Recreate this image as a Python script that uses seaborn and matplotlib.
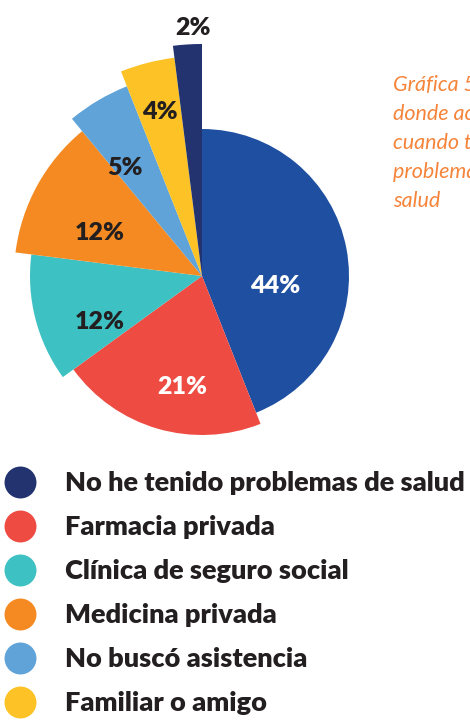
import matplotlib.pyplot as plt
import seaborn as sns
import numpy as np
from matplotlib.lines import Line2D

# datos del grafico (sentido horario desde arriba)
categorias = ["Otro", "Farmacia privada", "Clínica de seguro social", "Medicina privada",
              "No buscó asistencia", "Familiar o amigo", "No he tenido problemas de salud"]
porcentajes = [44, 21, 12, 12, 5, 4, 2]
etiquetas = ["44%", "21%", "12%", "12%", "5%", "4%", "2%"]
leyenda_orden = ["No he tenido problemas de salud", "Farmacia privada", "Clínica de seguro social",
                 "Medicina privada", "No buscó asistencia", "Familiar o amigo"]
nota = ["Gráfica 5. Lugar", "donde acude", "cuando tiene", "problemas de", "salud"]

# estilo
colores = ["#1f4fa0", "#ee4c43", "#3ec1c2", "#f58a22", "#5fa3d8", "#fdc226", "#22336f"]
radios = [147, 159, 172, 188, 204, 220, 232]
dist_lbl = [0.50, 0.71, 0.65, 0.59, 0.65, 0.77, 1.07]
giro_lbl = [-19, 6, 10, 6, 5, 0, -1.5]
col_lbl = ["white", "white", "#231f20", "#231f20", "#231f20", "#231f20", "#231f20"]

sns.set_theme(style="white")
plt.rcParams['font.family'] = ['Lato', 'DejaVu Sans']

fig = plt.figure(figsize=(4.7, 7.2), dpi=100)
ax = fig.add_axes([0, 0, 1, 1])

cx, cy = 202, 276
wedges, _ = ax.pie(porcentajes, colors=colores, startangle=90, counterclock=False,
                   radius=1, wedgeprops=dict(linewidth=0))
for w, r in zip(wedges, radios):
    w.set_radius(r)

for w, r, d, g, t, c in zip(wedges, radios, dist_lbl, giro_lbl, etiquetas, col_lbl):
    ang = np.deg2rad((w.theta1 + w.theta2) / 2 + g)
    ax.text(r * d * np.cos(ang), r * d * np.sin(ang), t, ha="center", va="center",
            fontsize=18, fontweight="heavy", color=c)

ax.set_xlim(-cx, 470 - cx)
ax.set_ylim(-(720 - cy), cy)
ax.set_aspect("equal")
ax.axis("off")

# nota en naranja (cortada en el borde derecho, como en el original)
for i, linea in enumerate(nota):
    fig.text(393 / 470, 1 - (85 + 29 * i) / 720, linea, fontsize=15.5, style="italic",
             color="#f5843a", va="center", ha="left")

# leyenda con circulos
idx = [categorias.index(n) for n in leyenda_orden]
handles = [Line2D([0], [0], marker="o", linestyle="", markersize=23,
                  markerfacecolor=colores[i], markeredgewidth=0) for i in idx]
fig.legend(handles, leyenda_orden, loc="upper left", bbox_to_anchor=(4 / 470, 1 - 471 / 720),
           frameon=False, prop=dict(weight="heavy", size=19.5), handlelength=1.2,
           handletextpad=1.05, labelspacing=0.74, borderpad=0, borderaxespad=0,
           labelcolor="#231f20")

plt.savefig("out.png", dpi=100)
